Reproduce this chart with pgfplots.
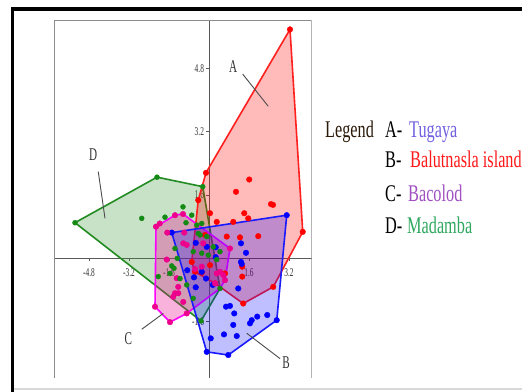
\documentclass[border=0pt]{standalone}
\usepackage{fontspec}
\setmainfont{Liberation Serif}
\newfontfamily\tickfont{Liberation Serif}[FakeStretch=0.62]
\newfontfamily\legfont{Liberation Serif}[FakeStretch=0.68]
\usepackage{pgfplots}
\pgfplotsset{compat=1.18}
\definecolor{rline}{HTML}{FF2020}
\definecolor{bline}{HTML}{1A1AFF}
\definecolor{gline}{HTML}{228B22}
\definecolor{mline}{HTML}{FF00FF}
\definecolor{gfill}{HTML}{3A9A3A}
\definecolor{gpt}{HTML}{138A13}
\definecolor{ctug}{HTML}{7060E0}
\definecolor{cbal}{HTML}{FF1A1A}
\definecolor{cbac}{HTML}{A050C0}
\definecolor{cmad}{HTML}{30A860}
\definecolor{cleg}{HTML}{2A1A0A}
\begin{document}
\begin{tikzpicture}
\useasboundingbox (0bp,0bp) rectangle (522bp,392bp);
\fill[white] (0bp,0bp) rectangle (522bp,392bp);
\draw[black, line width=4bp] (11bp,383bp) -- (522bp,383bp);
\draw[black, line width=3bp] (12.5bp,385bp) -- (12.5bp,0bp);
\draw[black!15, line width=2bp] (14bp,3bp) -- (522bp,3bp);
\begin{axis}[
  at={(54bp,14bp)}, anchor=south west,
  scale only axis, width=257.7bp, height=357.3bp,
  xmin=-6.2, xmax=4.108, ymin=-3.02, ymax=6.0,
  axis lines=middle,
  axis line style={-, draw=black!65, line width=0.8bp},
  xtick={-4.8,-3.2,-1.6,1.6,3.2}, ytick={-1.6,1.6,3.2,4.8},
  tick align=outside, major tick length=3bp,
  tick style={black!65, line width=0.7bp},
  /pgf/number format/assume math mode=true,
  ticklabel style={font=\tickfont\fontsize{12}{12}\selectfont, text=black!80},
  xticklabel style={yshift=-4bp},
  yticklabel style={xshift=1.5bp},
]
\draw[black!45, line width=0.9bp] (rel axis cs:0,0) rectangle (rel axis cs:1,1);

% polygons
\addplot[draw=gline, line width=1.6bp, fill=gfill, fill opacity=0.28] coordinates {
(-5.36,0.9) (-2.08,2.05) (-0.25,1.81) (0.44,-0.76) (-0.32,-1.58)} -- cycle;
\addplot[draw=rline, line width=1.6bp, fill=red, fill opacity=0.27] coordinates {
(3.24,5.78) (3.75,0.67) (2.57,-0.72) (1.37,-1.14) (0.24,-0.63) (-0.56,-0.34) (-0.69,-0.09) (-0.43,1.47) (-0.12,2.16)} -- cycle;
\addplot[draw=mline, line width=1.6bp, fill=magenta, fill opacity=0.3] coordinates {
(-2.12,0.8) (-1.36,1.09) (-1.04,1.12) (0.84,0.25) (0.64,-0.55) (0.44,-0.76) (-0.89,-1.39) (-1.56,-1.61) (-2.16,-1.22)} -- cycle;
\addplot[draw=bline, line width=1.6bp, fill=blue, fill opacity=0.25] coordinates {
(3.11,1.09) (2.71,-1.56) (0.77,-2.44) (-0.09,-2.36) (-1.49,0.65)} -- cycle;

% points
\addplot[only marks, mark=*, mark size=2.8bp, color=red] coordinates {
(-0.12,2.16) (1.61,1.99) (1.08,1.68) (-0.43,1.47) (2.48,1.37) (2.56,1.35)
(1.41,1.14) (1.57,1.01) (0.04,1.14) (0.31,0.92) (0.97,0.92) (0.71,0.55)
(1.24,0.53) (1.97,0.56) (3.75,0.67) (3.24,5.78) (2.57,-0.72) (1.37,-1.14)
(1.33,-0.21) (1.33,-0.46) (0.24,-0.63) (-0.16,0.59) (-0.69,-0.09) (0.04,-0.17)
(-0.56,-0.34) (-0.29,-0.36) (0.64,-0.38)};
\addplot[only marks, mark=*, mark size=2.8bp, color=blue] coordinates {
(3.11,1.09) (-1.49,0.65) (-0.53,0.39) (-0.09,0.29) (0.27,0.28) (0.27,0.03)
(1.28,0.38) (1.48,0.14) (1.28,-0.09) (1.31,-0.14) (-0.87,-0.30) (-0.6,-0.48)
(-0.29,-0.34) (-0.12,-0.51) (-0.53,-0.73) (0.15,-0.67) (1.17,-0.76) (0.68,-1.22)
(0.84,-1.2) (1.01,-1.39) (0.97,-1.68) (1.64,-1.64) (1.71,-1.56) (1.93,-1.47)
(2.33,-1.43) (2.71,-1.56) (0.6,-1.92) (0.07,-2.02) (1.11,-1.96) (-0.09,-2.36)
(0.77,-2.44)};
\addplot[only marks, mark=*, mark size=2.8bp, color=magenta] coordinates {
(-1.36,1.09) (-1.97,0.88) (-1.67,0.65) (-0.99,0.65) (-1.03,0.38) (-0.89,0.34)
(-0.23,0.38) (-1.69,-0.03) (-0.56,-0.27) (0.31,-0.38) (0.44,-0.34) (0.57,-0.42)
(0.64,-0.55) (0.24,-0.63) (-1.29,-0.5) (-1.23,-0.72) (-1.43,-0.97) (-1.36,-0.88)
(-1.03,-1.1) (-1.23,-0.88) (-2.16,-1.22) (-1.56,-1.61) (0.84,0.25) (-1.04,1.12)
(-2.12,0.8) (-0.89,-1.39) (-0.29,-0.21)};
\addplot[only marks, mark=*, mark size=2.5bp, color=gpt] coordinates {
(-5.36,0.9) (-2.08,2.05) (-0.25,1.81) (-2.69,1.01) (-1.76,1.04) (-1.04,1.3)
(-0.69,1.09) (-0.92,0.9) (-0.49,0.84) (-0.29,0.88) (-0.43,0.63) (-0.09,0.55)
(-1.36,0.25) (-1.27,0.0) (-0.63,0.17) (-0.29,0.13) (-0.03,0.08) (0.31,-0.03)
(0.44,0.17) (0.17,0.29) (-2.03,-0.46) (-1.49,-0.19) (-1.56,-0.38) (-1.16,-0.51)
(-0.89,-0.67) (-0.63,-1.01) (-0.32,-1.58) (0.44,-0.76) (-0.36,0.59) (-1.4,-0.25)};

% annotation leader lines
\addplot[black!70, line width=0.9bp] coordinates {(1.35,4.65) (2.37,3.84)};
\addplot[black!70, line width=0.9bp] coordinates {(-4.43,2.19) (-4.16,1.01)};
\addplot[black!70, line width=0.9bp] coordinates {(-2.69,-1.79) (-1.83,-1.39)};
\addplot[black!70, line width=0.9bp] coordinates {(1.51,-1.89) (2.84,-2.53)};
\node[text=black!80, font=\tickfont\fontsize{18}{18}\selectfont] at (axis cs:0.97,4.84) {A};
\node[text=black!80, font=\tickfont\fontsize{18}{18}\selectfont] at (axis cs:-4.63,2.63) {D};
\node[text=black!80, font=\tickfont\fontsize{18}{18}\selectfont] at (axis cs:-3.23,-2.02) {C};
\node[text=black!80, font=\tickfont\fontsize{18}{18}\selectfont] at (axis cs:3.08,-2.64) {B};
\end{axis}

% legend text
\begin{scope}[every node/.style={anchor=base west, inner sep=0pt, font=\legfont\fontsize{24}{24}\selectfont}]
\node[text=cleg] at (325bp,254bp) {Legend};
\node[text=black] at (385bp,254bp) {A-};
\node[text=ctug] at (409bp,254bp) {Tugaya};
\node[text=black] at (385bp,224bp) {B-};
\node[text=cbal] at (410bp,224bp) {Balutnasla island};
\node[text=black] at (385bp,190.3bp) {C-};
\node[text=cbac] at (408bp,190.3bp) {Bacolod};
\node[text=black] at (385bp,158.7bp) {D-};
\node[text=cmad] at (407bp,158.7bp) {Madamba};
\end{scope}
\end{tikzpicture}
\end{document}
